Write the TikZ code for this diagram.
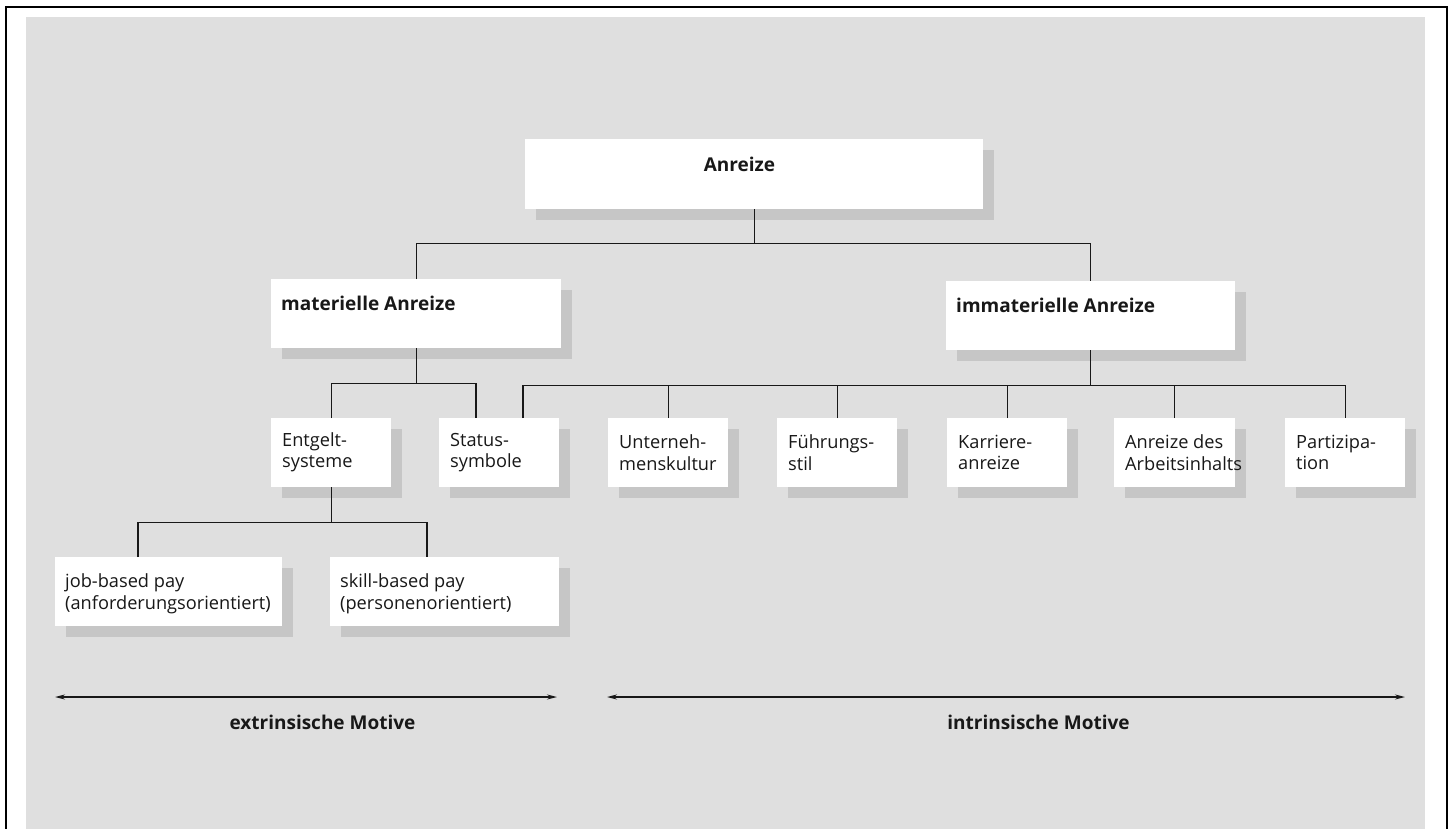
\documentclass[tikz,border=0pt]{standalone}
\usepackage{fontspec}
\setmainfont{Open Sans}
\usetikzlibrary{shadows,calc,arrows.meta}
\definecolor{paper}{RGB}{223,223,223}
\definecolor{shade}{RGB}{198,198,198}
\definecolor{ink}{RGB}{24,24,24}
\tikzset{
  box/.style={fill=white, draw=none, inner sep=0pt, anchor=north west,
    drop shadow={shadow xshift=11pt, shadow yshift=-11pt, fill=shade, opacity=1}},
  conn/.style={draw=ink, line width=1.4pt},
  lbl/.style={inner sep=0pt, anchor=west, align=left, text=ink, font=\fontsize{18.2}{21.5}\selectfont},
  blbl/.style={inner sep=0pt, anchor=west, align=left, text=ink, font=\fontsize{19}{22}\selectfont\bfseries},
  motive/.style={draw=ink, line width=1.4pt, {Stealth[length=10pt,width=5pt]}-{Stealth[length=10pt,width=5pt]}},
  big/.style={minimum width=#1, minimum height=69pt},
}
\begin{document}
\begin{tikzpicture}[x=1pt,y=-1pt]
\useasboundingbox (0,0) rectangle (1451,829);
\fill[white] (0,0) rectangle (1451,829);
\fill[paper] (26,17) rectangle (1425,829);
\draw[line width=2.5pt,black] (6,829) -- (6,7) -- (1447,7) -- (1447,829);

% level 1
\node[box, minimum width=458pt, minimum height=70pt] (anreize) at (525,139) {};
\node[blbl, anchor=center] (tAnreize) at (739.5,164) {Anreize};

% level 2
\node[box, big=290pt] (mat) at (271,279) {};
\node[blbl] (tMat) at (281,303) {materielle Anreize};
\node[box, big=289pt] (immat) at (946,281) {};
\node[blbl] (tImmat) at (956,305) {immaterielle Anreize};

% level 3
\node[box, big=120pt] (entgelt) at (271,418) {};
\node[lbl] (tEntgelt) at (282,452.5) {Entgelt-\\systeme};
\node[box, big=120pt] (status) at (439,418) {};
\node[lbl] (tStatus) at (450,452.5) {Status-\\symbole};
\node[box, big=120pt] (untern) at (608,418) {};
\node[lbl] (tUntern) at (619,452.5) {Unterneh-\\menskultur};
\node[box, big=120pt] (fuehr) at (777,418) {};
\node[lbl] (tFuehr) at (788,452.5) {Führungs-\\stil};
\node[box, big=120pt] (karriere) at (947,418) {};
\node[lbl] (tKarriere) at (958,452.5) {Karriere-\\anreize};
\node[box, big=121pt] (arbeit) at (1114,418) {};
\node[lbl] (tArbeit) at (1125,452.5) {Anreize des\\Arbeitsinhalts};
\node[box, big=120pt] (partiz) at (1285,418) {};
\node[lbl] (tPartiz) at (1296,452.5) {Partizipa-\\tion};

% level 4
\node[box, big=227pt] (job) at (55,557) {};
\node[lbl] (tJob) at (65,594) {job-based pay\\(anforderungsorientiert)};
\node[box, big=229pt] (skill) at (330,557) {};
\node[lbl] (tSkill) at (340,594) {skill-based pay\\(personenorientiert)};

% connectors
\draw[conn] (anreize.south) -- ++(0,34) coordinate (ja);
\draw[conn] (mat.north) |- (ja) -| (immat.north);

\coordinate (s1) at ($(status.north west)+(37,0)$);
\coordinate (s2) at ($(status.north west)+(84,0)$);
\draw[conn] (mat.south) -- ++(0,35) coordinate (jm);
\draw[conn] (entgelt.north) |- (jm) -| (s1);

\draw[conn] (immat.south) -- ++(0,35) coordinate (ji);
\draw[conn] (s2) |- (ji) -| (partiz.north);
\draw[conn] (untern.north) -- (untern.north |- ji);
\draw[conn] (fuehr.north) -- (fuehr.north |- ji);
\draw[conn] (karriere.north) -- (karriere.north |- ji);
\draw[conn] (arbeit.north) -- (arbeit.north |- ji);

\coordinate (jd) at ($(job.north west)+(83,0)$);
\coordinate (sd) at ($(skill.north west)+(97,0)$);
\draw[conn] (entgelt.south) -- ++(0,35) coordinate (je);
\draw[conn] (jd) |- (je) -| (sd);

% motives
\coordinate (eL) at (55,697);
\coordinate (eR) at (557,697);
\coordinate (iL) at (607,697);
\coordinate (iR) at (1405,697);
\draw[motive] (eL) -- (eR);
\draw[motive] (iL) -- (iR);
\node[blbl, anchor=center] (tExt) at (322.5,722) {extrinsische Motive};
\node[blbl, anchor=center] (tInt) at (1038.5,722) {intrinsische Motive};
\end{tikzpicture}
\end{document}
